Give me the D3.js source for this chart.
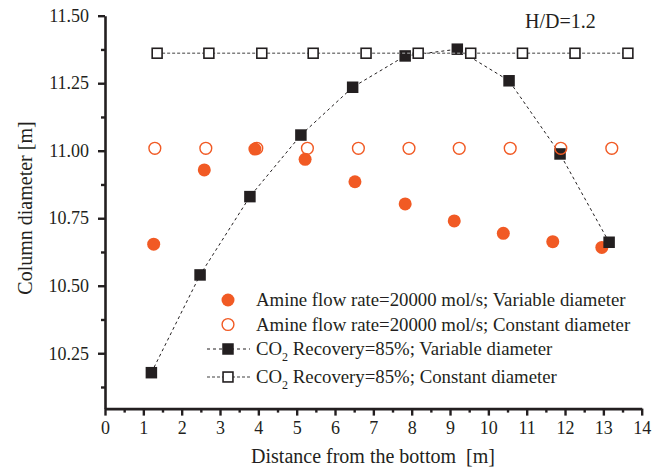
<!DOCTYPE html>
<html>
<head>
<meta charset="utf-8">
<script src="https://cdn.jsdelivr.net/npm/d3@7"></script>
<style>
  body { margin: 0; background: #fff; }
  svg { font-family: "Liberation Serif", "Times New Roman", serif; }
  .axis path, .axis line { stroke: #231f20; }
  .axis text { font-family: "Liberation Serif", serif; font-size: 18px; fill: #231f20; }
</style>
</head>
<body>
<svg id="chart"></svg>
<script>
// distance from the bottom [m] / column diameter [m]
const circVarX = [1.27, 2.59, 3.91, 5.22, 6.52, 7.83, 9.11, 10.39, 11.68, 12.96];
const circVarY = [10.654, 10.929, 11.006, 10.968, 10.885, 10.803, 10.740, 10.694, 10.663, 10.642];
const circConstX = [1.30, 2.63, 3.96, 5.28, 6.61, 7.93, 9.24, 10.57, 11.89, 13.22];
const circConstY = [11.009, 11.009, 11.009, 11.009, 11.009, 11.009, 11.009, 11.009, 11.009, 11.009];
const sqVarX = [1.21, 2.48, 3.78, 5.11, 6.46, 7.83, 9.19, 10.54, 11.87, 13.15];
const sqVarY = [10.178, 10.540, 10.830, 11.058, 11.235, 11.351, 11.376, 11.259, 10.988, 10.661];
const sqConstX = [1.36, 2.71, 4.09, 5.43, 6.81, 8.17, 9.54, 10.89, 12.26, 13.64];
const sqConstY = [11.361, 11.361, 11.361, 11.361, 11.361, 11.361, 11.361, 11.361, 11.361, 11.361];

const xTicks = d3.range(0, 15, 1);
const xMinor = d3.range(0.5, 14, 1);
const yTicks = [10.25, 10.50, 10.75, 11.00, 11.25, 11.50];
const yMinor = [10.125, 10.375, 10.625, 10.875, 11.125, 11.375];

const legendLabels = [
  "Amine flow rate=20000 mol/s; Variable diameter",
  "Amine flow rate=20000 mol/s; Constant diameter",
  "Recovery=85%; Variable diameter",
  "Recovery=85%; Constant diameter"
];

const width = 665, height = 471;
const orange = "#f15a24", dark = "#231f20";

const svg = d3.select("#chart").attr("width", width).attr("height", height);

const x = d3.scaleLinear().domain([0, 14]).range([105, 641.7]);
const y = d3.scaleLinear().domain([10.045, 11.5]).range([408.6, 15.7]);

const zip = (xs, ys) => xs.map((v, i) => ({x: v, y: ys[i]}));

// axes
const xAxisG = svg.append("g").attr("class", "axis").attr("transform", `translate(0,${y.range()[0]})`);
xAxisG.call(d3.axisBottom(x).tickValues(xMinor).tickSize(4).tickFormat(""));
xAxisG.call(g => g.select(".domain").remove());
const xMain = svg.append("g").attr("class", "axis").attr("transform", `translate(0,${y.range()[0]})`)
  .call(d3.axisBottom(x).tickValues(xTicks).tickSize(7).tickSizeOuter(0).tickPadding(6).tickFormat(d3.format("d")));
xMain.select(".domain").attr("stroke-width", 2.6);
xMain.selectAll(".tick line").attr("stroke-width", 2.4);
xAxisG.selectAll(".tick line").attr("stroke-width", 2.4);

const yAxisG = svg.append("g").attr("class", "axis").attr("transform", `translate(${x(0)},0)`);
yAxisG.call(d3.axisLeft(y).tickValues(yMinor).tickSize(4).tickFormat(""));
yAxisG.call(g => g.select(".domain").remove());
const yMain = svg.append("g").attr("class", "axis").attr("transform", `translate(${x(0)},0)`)
  .call(d3.axisLeft(y).tickValues(yTicks).tickSize(7).tickSizeOuter(0).tickPadding(9).tickFormat(d3.format(".2f")));
yMain.select(".domain").attr("stroke-width", 2.6);
yMain.selectAll(".tick line").attr("stroke-width", 2.4);
yAxisG.selectAll(".tick line").attr("stroke-width", 2.4);

// axis titles
svg.append("text")
  .attr("x", 373).attr("y", 463)
  .attr("text-anchor", "middle")
  .style("font-size", "20px").style("white-space", "pre").attr("fill", dark)
  .text("Distance from the bottom  [m]");
svg.append("text")
  .attr("transform", "translate(32,208) rotate(-90)")
  .attr("text-anchor", "middle")
  .style("font-size", "20px").attr("fill", dark)
  .text("Column diameter [m]");
svg.append("text")
  .attr("x", 525).attr("y", 28)
  .style("font-size", "20px").attr("fill", dark)
  .text("H/D=1.2");

const line = d3.line().x(d => x(d.x)).y(d => y(d.y));
const sq = 11.5;

// variable diameter amine points
svg.append("g").selectAll("circle").data(zip(circVarX, circVarY)).join("circle")
  .attr("cx", d => x(d.x)).attr("cy", d => y(d.y)).attr("r", 6.5).attr("fill", orange);

// CO2 recovery, variable
svg.append("path").datum(zip(sqVarX, sqVarY))
  .attr("d", line).attr("fill", "none").attr("stroke", dark)
  .attr("stroke-width", 1).attr("stroke-dasharray", "3,3");
svg.append("g").selectAll("rect").data(zip(sqVarX, sqVarY)).join("rect")
  .attr("x", d => x(d.x) - sq / 2).attr("y", d => y(d.y) - sq / 2)
  .attr("width", sq).attr("height", sq).attr("fill", dark);

// CO2 recovery, constant
svg.append("path").datum(zip(sqConstX, sqConstY))
  .attr("d", line).attr("fill", "none").attr("stroke", "#808080")
  .attr("stroke-width", 1.6).attr("stroke-dasharray", "3,2");
svg.append("g").selectAll("rect").data(zip(sqConstX, sqConstY)).join("rect")
  .attr("x", d => x(d.x) - (sq - 1.6) / 2).attr("y", d => y(d.y) - (sq - 1.6) / 2)
  .attr("width", sq - 1.6).attr("height", sq - 1.6)
  .attr("fill", "#fff").attr("stroke", dark).attr("stroke-width", 1.6);

// constant diameter amine points
svg.append("g").selectAll("circle").data(zip(circConstX, circConstY)).join("circle")
  .attr("cx", d => x(d.x)).attr("cy", d => y(d.y)).attr("r", 5.9)
  .attr("fill", "none").attr("stroke", orange).attr("stroke-width", 1.4);

// legend
const legend = svg.append("g");
const rowsY = [300, 324.5, 349, 377];
const lx = 228, tx = 256;

legend.append("circle").attr("cx", lx).attr("cy", rowsY[0]).attr("r", 6.5).attr("fill", orange);
legend.append("circle").attr("cx", lx).attr("cy", rowsY[1]).attr("r", 5.9)
  .attr("fill", "none").attr("stroke", orange).attr("stroke-width", 1.4);

legend.append("line").attr("x1", 207).attr("x2", 250).attr("y1", rowsY[2]).attr("y2", rowsY[2])
  .attr("stroke", dark).attr("stroke-dasharray", "3,3");
legend.append("rect").attr("x", lx - sq / 2).attr("y", rowsY[2] - sq / 2)
  .attr("width", sq).attr("height", sq).attr("fill", dark);
legend.append("line").attr("x1", 207).attr("x2", 250).attr("y1", rowsY[3]).attr("y2", rowsY[3])
  .attr("stroke", "#808080").attr("stroke-width", 1.4).attr("stroke-dasharray", "3,2");
legend.append("rect").attr("x", lx - (sq - 1.6) / 2).attr("y", rowsY[3] - (sq - 1.6) / 2)
  .attr("width", sq - 1.6).attr("height", sq - 1.6)
  .attr("fill", "#fff").attr("stroke", dark).attr("stroke-width", 1.6);

legendLabels.forEach((label, i) => {
  const t = legend.append("text")
    .attr("x", tx).attr("y", rowsY[i] + 6)
    .style("font-size", "18.8px").attr("fill", dark);
  if (i < 2) {
    t.text(label);
  } else {
    t.append("tspan").text("CO");
    t.append("tspan").attr("dy", 6).style("font-size", "12px").text("2");
    t.append("tspan").attr("dy", -6).text(" " + label);
  }
});
</script>
</body>
</html>
